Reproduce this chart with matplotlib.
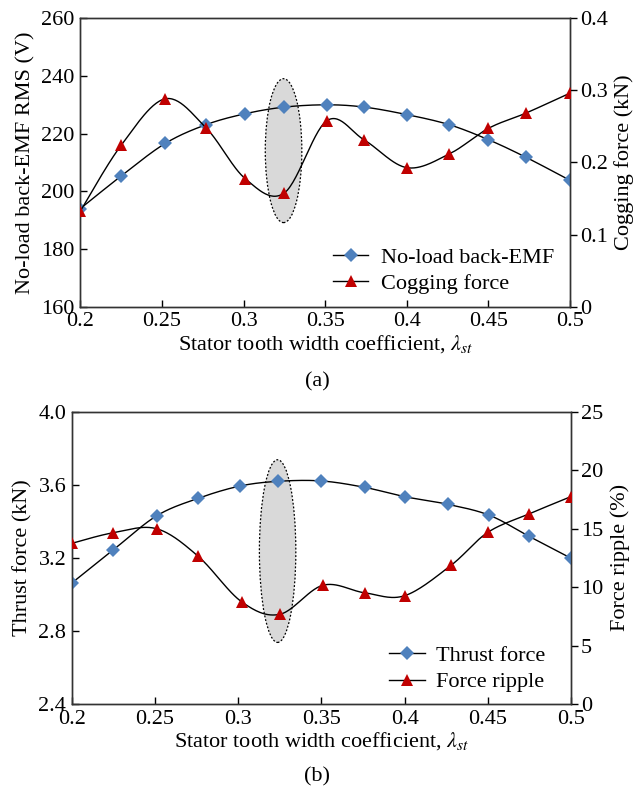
import numpy as np
import matplotlib
matplotlib.use("Agg")
import matplotlib.pyplot as plt
from matplotlib.patches import Ellipse
from matplotlib.lines import Line2D

plt.rcParams['font.family'] = ['Liberation Serif', 'DejaVu Serif']
plt.rcParams['mathtext.fontset'] = 'stix'
FS = 16
plt.rcParams['font.size'] = FS

# ---- panel (a): no-load back-EMF and cogging force ----
emf_x = [0.200, 0.225, 0.252, 0.277, 0.301, 0.325, 0.351, 0.374, 0.400, 0.426, 0.450, 0.473, 0.500]
emf_v = [194.0, 205.3, 216.6, 223.1, 226.9, 229.2, 230.0, 229.2, 226.6, 223.1, 217.9, 211.8, 203.8]
cog_x = [0.200, 0.225, 0.252, 0.277, 0.301, 0.325, 0.351, 0.374, 0.400, 0.426, 0.450, 0.473, 0.500]
cog_v = [0.1325, 0.2238, 0.2883, 0.248, 0.1776, 0.1578, 0.2579, 0.2311, 0.1928, 0.2118, 0.2473, 0.2685, 0.2962]

# ---- panel (b): thrust force and force ripple ----
thr_x = [0.200, 0.225, 0.251, 0.276, 0.301, 0.324, 0.350, 0.376, 0.400, 0.426, 0.451, 0.475, 0.500]
thr_v = [3.062, 3.244, 3.430, 3.526, 3.593, 3.619, 3.621, 3.586, 3.535, 3.493, 3.433, 3.317, 3.198]
rip_x = [0.200, 0.225, 0.251, 0.276, 0.302, 0.325, 0.351, 0.376, 0.400, 0.428, 0.450, 0.475, 0.500]
rip_v = [13.74, 14.65, 14.99, 12.63, 8.75, 7.67, 10.16, 9.51, 9.26, 11.87, 14.68, 16.27, 17.74]

x_ticks = [0.2, 0.25, 0.3, 0.35, 0.4, 0.45, 0.5]
x_labels = ['0.2', '0.25', '0.3', '0.35', '0.4', '0.45', '0.5']

BLUE = '#4f81bd'
RED = '#c00000'


def smooth(xs, ys, n=30):
    """Catmull-Rom curve through the points, expressed as cubic Beziers."""
    p = np.column_stack([xs, ys]).astype(float)
    pts = np.vstack([p[0], p, p[-1]])
    out = []
    t = np.linspace(0, 1, n)[:, None]
    for i in range(1, len(pts) - 2):
        p0, p1, p2, p3 = pts[i - 1], pts[i], pts[i + 1], pts[i + 2]
        c1 = p1 + (p2 - p0) / 6.0
        c2 = p2 - (p3 - p1) / 6.0
        seg = ((1 - t) ** 3) * p1 + 3 * ((1 - t) ** 2) * t * c1 + 3 * (1 - t) * t ** 2 * c2 + t ** 3 * p2
        out.append(seg if i == 1 else seg[1:])
    s = np.vstack(out)
    return s[:, 0], s[:, 1]


def style_axes(ax, ax2):
    for a in (ax, ax2):
        for sp in a.spines.values():
            sp.set_linewidth(1.0)
            sp.set_color('#333333')
    ax.tick_params(axis='both', direction='in', length=5, width=1, labelsize=FS,
                   top=False, right=False, pad=4)
    ax2.tick_params(axis='y', direction='out', length=5, width=1, labelsize=FS, pad=2)
    ax.set_xlim(0.2, 0.5)
    ax.set_xticks(x_ticks)
    ax.set_xticklabels(x_labels)
    ax.set_xlabel(r'Stator tooth width coefficient, $\lambda_{st}$', fontsize=FS, labelpad=1)


def draw_series(ax, xs, ys, marker, color, label, ms):
    sx, sy = smooth(xs, ys)
    ax.plot(sx, sy, color='black', lw=1.0, zorder=3)
    ax.plot(xs, ys, linestyle='none', marker=marker, color=color, ms=ms,
            markeredgewidth=0, zorder=4)
    return Line2D([], [], color='black', lw=1.0, marker=marker, markerfacecolor=color,
                  markeredgewidth=0, ms=ms, label=label)


fig = plt.figure(figsize=(6.34, 7.91), dpi=100)

# panel (a)
ax1 = fig.add_axes([0.1267, 0.6123, 0.7724, 0.3646])
ax1b = ax1.twinx()
ax1.add_patch(Ellipse((0.3245, 214.1), 0.0224, 49.9, facecolor='#d9d9d9',
                      edgecolor='black', linestyle=(0, (1.5, 1.5)), lw=0.9, zorder=1))
h1 = draw_series(ax1, emf_x, emf_v, 'D', BLUE, 'No-load back-EMF', 7.5)
h2 = draw_series(ax1b, cog_x, cog_v, '^', RED, 'Cogging force', 9)
ax1.set_ylim(160, 260)
ax1.set_yticks([160, 180, 200, 220, 240, 260])
ax1b.set_ylim(0, 0.4)
ax1b.set_yticks([0, 0.1, 0.2, 0.3, 0.4])
ax1b.set_yticklabels(['0', '0.1', '0.2', '0.3', '0.4'])
ax1.set_ylabel('No-load back-EMF RMS (V)', fontsize=FS, labelpad=4)
ax1b.set_ylabel('Cogging force (kN)', fontsize=FS, labelpad=5)
style_axes(ax1, ax1b)
ax1.legend(handles=[h1, h2], loc='lower right', bbox_to_anchor=(0.967, 0.045),
           frameon=False, fontsize=FS, handlelength=1.6, handletextpad=0.55,
           labelspacing=0.25, borderaxespad=0.0, borderpad=0.0)
fig.text(0.5, 1 - 381.7 / 791, '(a)', ha='center', va='center', fontsize=FS)

# panel (b)
ax2 = fig.add_axes([0.1132, 0.1100, 0.7874, 0.3695])
ax2b = ax2.twinx()
ax2.add_patch(Ellipse((0.3237, 3.237), 0.0219, 1.0, facecolor='#d9d9d9',
                      edgecolor='black', linestyle=(0, (1.5, 1.5)), lw=0.9, zorder=1))
h3 = draw_series(ax2, thr_x, thr_v, 'D', BLUE, 'Thrust force', 7.5)
h4 = draw_series(ax2b, rip_x, rip_v, '^', RED, 'Force ripple', 9)
ax2.set_ylim(2.4, 4.0)
ax2.set_yticks([2.4, 2.8, 3.2, 3.6, 4.0])
ax2.set_yticklabels(['2.4', '2.8', '3.2', '3.6', '4.0'])
ax2b.set_ylim(0, 25)
ax2b.set_yticks([0, 5, 10, 15, 20, 25])
ax2.set_ylabel('Thrust force (kN)', fontsize=FS, labelpad=4)
ax2b.set_ylabel('Force ripple (%)', fontsize=FS, labelpad=5)
style_axes(ax2, ax2b)
ax2.legend(handles=[h3, h4], loc='lower right', bbox_to_anchor=(0.948, 0.04),
           frameon=False, fontsize=FS, handlelength=1.6, handletextpad=0.5,
           labelspacing=0.25, borderaxespad=0.0, borderpad=0.0)
fig.text(0.5, 1 - 777 / 791, '(b)', ha='center', va='center', fontsize=FS)

fig.savefig('out.png', dpi=100)
